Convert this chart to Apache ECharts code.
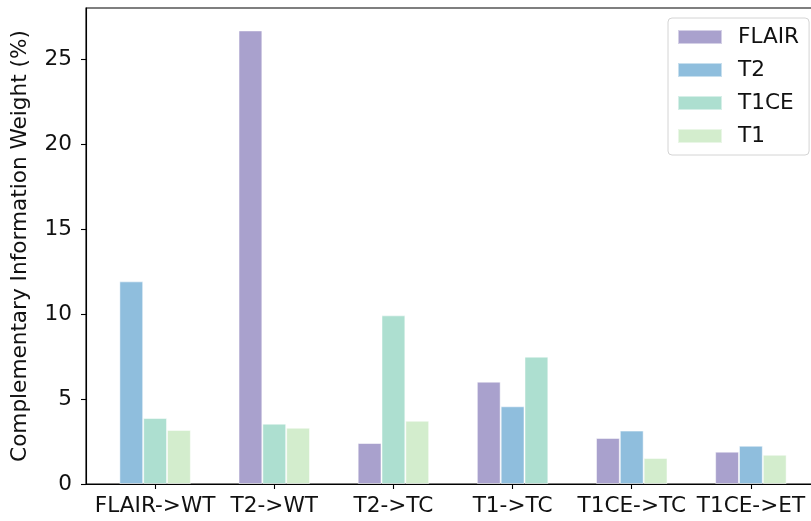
<!DOCTYPE html>
<html>
<head>
<meta charset="utf-8">
<script src="https://cdn.jsdelivr.net/npm/echarts@6/dist/echarts.min.js"></script>
<style>
  html, body { margin: 0; padding: 0; background: #fff; }
  #chart { width: 811px; height: 521px; }
</style>
</head>
<body>
<div id="chart"></div>
<script>
// Target tasks (x-axis groups)
const categories = ['FLAIR->WT', 'T2->WT', 'T2->TC', 'T1->TC', 'T1CE->TC', 'T1CE->ET'];

// Complementary information weight (%) per source modality; null = not applicable
const modalities = ['FLAIR', 'T2', 'T1CE', 'T1'];
const flairValues = [null, 26.68, 2.41, 6.02, 2.71, 1.90];
const t2Values    = [11.92, null, null, 4.57, 3.14, 2.25];
const t1ceValues  = [3.88, 3.55, 9.92, 7.49, null, null];
const t1Values    = [3.18, 3.31, 3.72, null, 1.53, 1.72];

const yTicks = [0, 5, 10, 15, 20, 25];

const colors = ['#a9a1cd', '#8fbedd', '#addfd0', '#d3edcd'];
const valuesByModality = [flairValues, t2Values, t1ceValues, t1Values];

// Bars inside a group are packed side by side (0.2 wide each), skipping absent modalities
const BAR_W = 0.2;
const seriesData = modalities.map(() => []);
categories.forEach((cat, ci) => {
  const present = [];
  valuesByModality.forEach((vals, mi) => { if (vals[ci] != null) present.push(mi); });
  present.forEach((mi, k) => {
    const x = ci + (k - (present.length - 1) / 2) * BAR_W;
    seriesData[mi].push([x, valuesByModality[mi][ci]]);
  });
});

const chart = echarts.init(document.getElementById('chart'), null, { renderer: 'canvas' });
const font = 'DejaVu Sans';
const fontSize = 21.6;
const xMin = -0.58, xMax = 5.58;
const gridLeft = 86, gridWidth = 734;
const barPx = BAR_W * gridWidth / (xMax - xMin);

chart.setOption({
  animation: false,
  backgroundColor: '#fff',
  textStyle: { fontFamily: font },
  grid: {
    left: gridLeft, top: 8, width: gridWidth, height: 476,
    show: true, borderColor: '#000', borderWidth: 1.1,
    containLabel: false, outerBoundsMode: 'none'
  },
  legend: {
    orient: 'vertical',
    left: 668, top: 18,
    padding: [8, 10, 8, 9],
    itemWidth: 44, itemHeight: 14, itemGap: 11,
    backgroundColor: 'rgba(255,255,255,0.85)',
    borderColor: '#d4d4d4', borderWidth: 1, borderRadius: 4,
    icon: 'rect',
    textStyle: { fontFamily: font, fontSize: fontSize, color: '#111', lineHeight: 22, padding: [0, 0, 0, 11] },
    data: modalities
  },
  xAxis: {
    type: 'value',
    min: xMin, max: xMax,
    splitLine: { show: false },
    axisLine: { show: true, onZero: false, lineStyle: { color: '#000', width: 1.1 } },
    axisTick: { show: true, length: 5, lineStyle: { color: '#000', width: 1.1 },
                customValues: categories.map((c, i) => i) },
    axisLabel: {
      customValues: categories.map((c, i) => i),
      formatter: v => categories[Math.round(v)],
      fontFamily: font, fontSize: fontSize, color: '#111', margin: 11
    }
  },
  yAxis: {
    type: 'value',
    min: 0, max: 28,
    name: 'Complementary Information Weight (%)',
    nameLocation: 'middle',
    nameGap: 55,
    nameTextStyle: { fontFamily: font, fontSize: fontSize, color: '#111' },
    splitLine: { show: false },
    axisLine: { show: true, onZero: false, lineStyle: { color: '#000', width: 1.1 } },
    axisTick: { show: true, length: 5, lineStyle: { color: '#000', width: 1.1 }, customValues: yTicks },
    axisLabel: { customValues: yTicks, fontFamily: font, fontSize: fontSize, color: '#111', margin: 14 }
  },
  series: modalities.map((name, mi) => ({
    name,
    type: 'bar',
    data: seriesData[mi],
    barWidth: barPx,
    barGap: '-100%',
    itemStyle: { color: colors[mi], borderColor: 'rgba(255,255,255,0.5)', borderWidth: 1 }
  }))
});
</script>
</body>
</html>
